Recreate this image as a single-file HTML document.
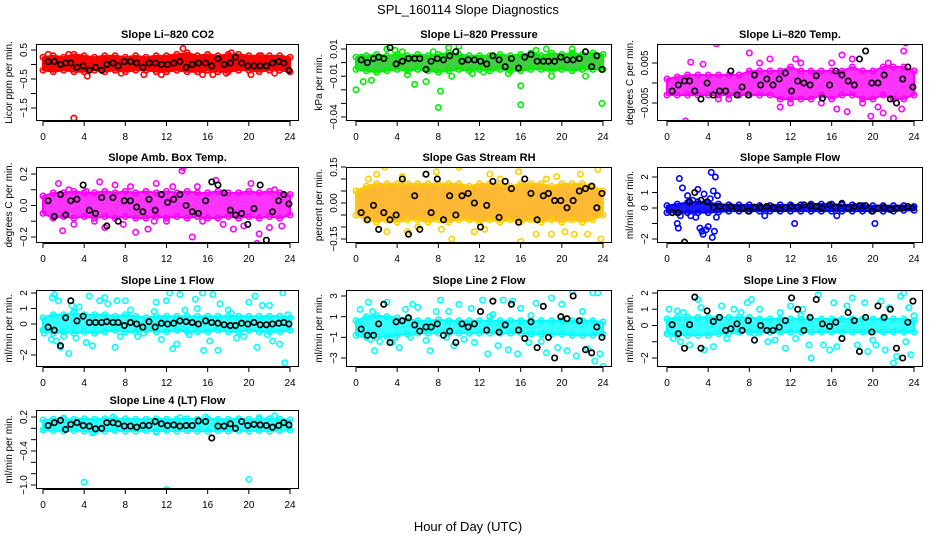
<!DOCTYPE html>
<html><head><meta charset="utf-8"><title>SPL_160114 Slope Diagnostics</title>
<style>
html,body{margin:0;padding:0;background:#fff;}
svg{display:block;font-family:"Liberation Sans",sans-serif;}
</style></head>
<body>
<svg id="chart" width="936" height="540" viewBox="0 0 936 540">
<text x="468" y="14" text-anchor="middle" font-size="13">SPL_160114  Slope Diagnostics</text>
<text x="468" y="531" text-anchor="middle" font-size="13">Hour of Day (UTC)</text>
</svg>
<script>
// ---------- shared data ----------
const xTicks = [0,4,8,12,16,20,24];
const bandHours = [0,1,2,3,4,5,6,7,8,9,10,11,12,13,14,15,16,17,18,19,20,21,22,23,24];
const blackHours = [0.5,1.1,1.7,2.2,2.7,3.3,3.9,4.5,5.1,5.7,6.2,6.8,7.3,7.9,8.5,9.1,9.7,10.3,10.9,11.5,12.1,12.7,13.3,13.9,14.5,15.1,15.8,16.4,17,17.6,18.2,18.7,19.3,19.9,20.5,21.1,21.7,22.3,22.9,23.4,23.9];

// Panel 1: Li-820 CO2
const p1lo = [-0.2,-0.25,-0.2,-0.25,-0.25,-0.2,-0.25,-0.2,-0.25,-0.2,-0.2,-0.25,-0.25,-0.2,-0.25,-0.25,-0.2,-0.25,-0.25,-0.2,-0.2,-0.25,-0.2,-0.2,-0.25];
const p1hi = [0.25,0.3,0.25,0.35,0.3,0.25,0.3,0.3,0.25,0.3,0.25,0.3,0.3,0.35,0.4,0.3,0.35,0.3,0.35,0.35,0.3,0.3,0.3,0.3,0.25];
const p1ex = [[3,-1.85],[4.3,-0.4],[13.6,0.55],[15.5,-0.35],[16.5,-0.35],[20.2,-0.35],[22.5,-0.3],[9.8,-0.35],[11.5,-0.35],[0.5,0.35],[18.3,0.4],[2.5,0.35],[17.8,-0.3],[21.2,0.3],[7.6,-0.3]];
const p1blk = [0.1,0.1,0,0.05,0.05,-0.1,-0.05,-0.2,-0.1,-0.2,0,0.05,-0.05,0.1,0.1,0.05,-0.1,0.05,0.05,0,0,0.05,0.1,-0.1,0,0.05,0.05,-0.05,0.2,0,0.05,0.25,0.05,-0.05,-0.05,-0.05,-0.05,0.05,0.1,0.05,-0.2];
const p1yt = [0.5,0,-0.5,-1,-1.5];
const p1yl = ["0.5","","\u22120.5","","\u22121.5"];

// Panel 2: Li-820 Pressure
const p2lo = [-0.005,-0.006,-0.007,-0.006,-0.005,-0.006,-0.005,-0.006,-0.007,-0.006,-0.005,-0.006,-0.005,-0.006,-0.005,-0.006,-0.006,-0.005,-0.005,-0.006,-0.005,-0.006,-0.005,-0.005,-0.005];
const p2hi = [0.004,0.005,0.006,0.005,0.006,0.005,0.006,0.005,0.006,0.007,0.006,0.005,0.005,0.005,0.006,0.005,0.006,0.007,0.005,0.007,0.006,0.007,0.006,0.007,0.006];
const p2ex = [[0,-0.02],[0.7,-0.014],[1.5,-0.013],[4,-0.045],[5.7,-0.016],[6.8,-0.014],[8,-0.033],[8.2,-0.021],[12,-0.046],[16,-0.031],[16,-0.017],[20,-0.046],[23.9,-0.03],[9,0.011],[10,0.012],[22.3,-0.01],[17.5,0.009],[7.5,0.008],[3,0.01],[12.4,-0.007],[14.8,-0.008],[19,-0.01],[21,0.01],[4.5,0.008],[9.3,-0.01],[3.8,0.009],[0.5,0.004],[5,-0.009],[18.5,0.01],[11.3,-0.008]];
const p2blk = [0.002,0,0.003,0.004,0.003,0.011,-0.001,0.001,0.003,0.003,0.003,-0.005,0.001,0.003,0.002,0.005,0.008,0.001,0.002,0.002,0.001,-0.001,0.005,0.002,-0.003,0.003,-0.004,0.004,0.006,0.001,0.001,0.001,0.001,0.004,0.002,0.002,0.003,0.008,-0.003,0.005,-0.005];
const p2yt = [0.01,0,-0.01,-0.02,-0.03,-0.04];
const p2yl = ["0.01","","\u22120.01","","","\u22120.04"];

// Panel 3: Li-820 Temp
const p3lo = [-0.003,-0.003,-0.003,-0.003,-0.003,-0.003,-0.003,-0.003,-0.003,-0.003,-0.003,-0.004,-0.004,-0.004,-0.004,-0.003,-0.004,-0.003,-0.003,-0.004,-0.004,-0.003,-0.004,-0.004,-0.003];
const p3hi = [0.001,0.0015,0.002,0.002,0.002,0.002,0.002,0.002,0.003,0.003,0.003,0.003,0.004,0.003,0.003,0.003,0.003,0.003,0.004,0.003,0.003,0.004,0.004,0.004,0.003];
const p3ex = [[1.8,-0.0095],[4.8,0.0098],[2.3,0.0052],[3.5,0.0047],[14,-0.011],[16.5,-0.0065],[17.5,-0.0072],[19.8,-0.0083],[21,-0.0075],[22,-0.0088],[23.2,0.01],[23,0.008],[8,0.0075],[11,-0.006],[12.5,0.006],[17,0.007],[24,0.003],[21.5,0.005],[5,-0.004],[10,0.006],[15,-0.005],[13,0.005],[6,-0.004],[18,0.006],[20.5,-0.006],[22.8,-0.0065],[9,0.005],[12,-0.005],[16,0.005],[19,-0.005]];
const p3blk = [-0.002,-0.0005,0.0005,0.0005,-0.002,-0.004,0,-0.003,-0.002,-0.002,0.003,-0.003,-0.001,-0.003,0.002,-0.0005,0.001,-0.0005,0.001,0.0025,-0.002,0.0005,0,-0.0005,0.0018,-0.0038,-0.0005,0.003,0.002,0.0005,-0.0005,0.006,0.008,0,0,0.002,-0.004,-0.005,0.001,0.004,-0.001];
const p3yt = [0.005,0,-0.005];
const p3yl = ["0.005","","\u22120.005"];

// Panel 4: Amb. Box Temp
const p4lo = [-0.05,-0.08,-0.07,-0.08,-0.07,-0.08,-0.07,-0.08,-0.07,-0.08,-0.08,-0.07,-0.08,-0.07,-0.08,-0.07,-0.08,-0.08,-0.07,-0.08,-0.07,-0.08,-0.07,-0.08,-0.06];
const p4hi = [0.06,0.08,0.08,0.09,0.08,0.08,0.09,0.08,0.09,0.08,0.09,0.08,0.09,0.08,0.09,0.08,0.08,0.09,0.08,0.08,0.09,0.08,0.09,0.08,0.07];
const p4ex = [[1.5,0.14],[1.9,-0.16],[3,-0.12],[4.2,0.09],[5.5,0.15],[6,-0.14],[7,0.13],[7.8,-0.12],[9,-0.17],[10.2,-0.15],[11,0.14],[12.6,0.12],[13.5,0.22],[13.6,0.24],[14.5,-0.2],[15.5,-0.1],[16.8,0.16],[17.5,-0.12],[18.5,-0.15],[19.5,-0.13],[20.2,0.14],[20.8,-0.24],[21,-0.18],[22,-0.14],[23.2,-0.13],[2.5,0.1],[8.5,0.12],[10.8,-0.1],[15,0.12],[22.5,0.1],[5,-0.1],[12,-0.1]];
const p4blk = [0.03,-0.07,0.07,-0.06,0.03,0.04,0.13,-0.03,-0.05,0.05,-0.13,0.05,-0.1,0.03,0.03,-0.01,-0.04,0.04,-0.03,0.07,0.02,0.04,0.07,0,-0.04,-0.05,0.03,0.15,0.13,0.08,-0.03,-0.06,-0.05,-0.12,-0.02,0.13,-0.22,-0.04,0.03,0.07,0.01];
const p4yt = [0.2,0.1,0,-0.1,-0.2];
const p4yl = ["0.2","","0.0","","\u22120.2"];

// Panel 5: Gas Stream RH
const p5lo = [-0.05,-0.07,-0.08,-0.07,-0.08,-0.07,-0.07,-0.08,-0.07,-0.08,-0.07,-0.07,-0.08,-0.07,-0.08,-0.07,-0.08,-0.07,-0.08,-0.07,-0.08,-0.07,-0.08,-0.07,-0.05];
const p5hi = [0.05,0.07,0.08,0.08,0.08,0.08,0.08,0.08,0.08,0.08,0.08,0.07,0.08,0.08,0.08,0.07,0.08,0.08,0.08,0.07,0.08,0.08,0.08,0.07,0.05];
const p5ex = [[0,-0.2],[1.2,0.1],[2,0.12],[2.8,0.15],[4,0.16],[4.5,0.11],[5,-0.12],[6.8,0.12],[7.8,0.13],[8.3,-0.11],[9.3,-0.15],[10,0.15],[11.5,-0.12],[13,0.12],[15.8,0.13],[16,-0.16],[17.5,-0.13],[19,-0.13],[19.5,0.11],[20.3,-0.12],[21.2,-0.13],[21.8,0.12],[22.5,-0.13],[23.5,0.14],[23.8,-0.15],[3,-0.12],[6,-0.1],[12.5,-0.11],[14,0.1],[18.5,0.1]];
const p5blk = [-0.04,-0.07,-0.01,-0.11,-0.04,-0.07,-0.05,0.1,-0.13,0.03,-0.11,0.12,-0.04,0.1,-0.07,0.03,-0.05,0.03,0.04,0.0,-0.1,-0.01,0.09,-0.06,0.09,0.06,-0.08,0.1,0.04,-0.07,0.03,0.04,0.01,0.01,-0.02,0.01,0.05,0.06,0.07,-0.02,0.04];
const p5yt = [0.15,0.1,0.05,0,-0.05,-0.1,-0.15];
const p5yl = ["0.15","","","0.00","","","\u22120.15"];

// Panel 6: Sample Flow
const p6lo = [-0.3,-0.3,-0.3,-0.3,-0.3,-0.25,-0.2,-0.2,-0.2,-0.2,-0.2,-0.2,-0.2,-0.2,-0.2,-0.2,-0.2,-0.2,-0.2,-0.2,-0.2,-0.2,-0.2,-0.15,-0.15];
const p6hi = [0.15,0.25,0.35,0.4,0.35,0.25,0.2,0.2,0.2,0.15,0.15,0.2,0.2,0.2,0.25,0.25,0.25,0.2,0.2,0.15,0.15,0.15,0.15,0.15,0.1];
const p6ex = [[1,-1],[1.2,1.9],[1.5,1.3],[2,0.8],[2.3,-0.5],[2.5,0.5],[3,1.2],[3.2,-1.3],[3.5,-1.7],[3.6,0.9],[3.8,-1.4],[4,-1.2],[4.3,2.3],[4.5,1.1],[4.6,-1.5],[4.7,2.0],[4.8,-0.6],[4.4,-1.9],[4.2,0.6],[1.1,-1.3],[1.3,-0.5],[9.5,-0.5],[12.4,-1],[16.5,-0.5],[20.2,-1],[2.8,-0.6],[4.9,0.8],[3.4,-1.5]];
const p6blk = [-0.3,-0.3,-2.2,0.4,1,0.5,0.4,0.05,0.1,0.05,0.1,0,0,-0.2,0.05,0.05,0.1,0.05,-0.05,0,0.1,0.05,0.2,0.15,0.1,0,0.2,0.05,0.3,0,0.1,0.15,0.15,-0.2,0,0.05,-0.1,0,0,0.1,0];
const p6yt = [2,1,0,-1,-2];
const p6yl = ["2","1","0","","\u22122"];

// Panel 7: Line 1 Flow
const p7lo = [-0.4,-0.6,-0.5,-0.6,-0.5,-0.6,-0.5,-0.4,-0.5,-0.5,-0.4,-0.5,-0.5,-0.4,-0.5,-0.5,-0.5,-0.4,-0.5,-0.5,-0.4,-0.5,-0.5,-0.5,-0.4];
const p7hi = [0.4,0.6,0.6,0.7,0.6,0.6,0.6,0.5,0.6,0.5,0.4,0.5,0.5,0.5,0.5,0.5,0.5,0.5,0.5,0.5,0.5,0.5,0.5,0.5,0.4];
const p7ex = [[0.1,-0.6],[0.8,-1],[0.9,1.7],[1.1,1.9],[1.3,-1.1],[1.5,1.5],[1.7,-1.5],[2,-0.8],[2.5,-1.9],[2.8,1.2],[3.2,-0.9],[3.5,1.1],[4.2,-1.2],[4.5,1.8],[4.8,-1.4],[5.5,1.5],[6,1.7],[6.3,1.3],[7,-1.5],[7.2,1.5],[7.5,-0.8],[8,1.5],[8.5,0.9],[9.2,-0.8],[10.8,0.8],[11,1.4],[11.5,-1],[12,1.5],[12.3,2],[12.6,-1.6],[13,-1.3],[13.3,1.9],[13.8,0.9],[14.8,1.6],[15,1],[15.5,2],[15.6,-1.7],[16.2,-1.1],[16.5,1.9],[17,-1.7],[17.2,1.3],[18,0.9],[18.8,-0.9],[19.5,-0.8],[20,1.4],[20.6,1.8],[20.8,-1.5],[21.3,1.2],[21.8,-0.7],[22,1.2],[22.3,-1.1],[23,-1.3],[23.3,2],[23.5,-2.5],[23.8,0.6],[9.8,-0.6],[14.2,-0.7],[3,0.8],[18.3,0.7]];
const p7blk = [-0.2,-0.4,-1.4,0.4,1.5,0.2,0.5,0.1,0.1,0.1,0.15,0.1,0.1,-0.1,0.1,0,-0.2,0.15,-0.2,0.05,0,0.05,0.2,0.15,0.1,0,0.2,0.1,0.05,-0.05,-0.1,-0.1,0.05,0,0.1,-0.05,-0.05,0,0.05,0.1,0];
const p7yt = [2,1,0,-1,-2];
const p7yl = ["2","1","0","","\u22122"];

// Panel 8: Line 2 Flow
const p8lo = [-0.8,-1,-1,-0.9,-0.8,-0.7,-0.6,-0.6,-0.6,-0.6,-0.6,-0.6,-0.6,-0.6,-0.6,-0.6,-0.6,-0.7,-0.7,-0.7,-0.7,-0.8,-0.8,-0.8,-0.7];
const p8hi = [0.6,1,1.1,1,0.9,0.8,0.6,0.6,0.7,0.6,0.6,0.6,0.6,0.6,0.6,0.6,0.6,0.6,0.6,0.6,0.6,0.6,0.6,0.6,0.5];
const p8ex = [[0.4,1.7],[0.9,-0.8],[1.2,2.4],[1.4,-1.2],[1.6,1.5],[1.8,-2.3],[2.3,-1.4],[3,2.4],[3.5,-1.5],[4.2,-2],[4.8,1.7],[5.3,-1],[5.5,2.2],[6,1.9],[6.8,-1.3],[7.2,-2.3],[7.8,1.5],[8.2,2.6],[9,1.5],[9.5,-1.8],[10,2.2],[10.5,-1.2],[11.2,1.8],[11.5,-1.5],[12.3,2.6],[12.8,-2.6],[13.3,1.2],[13.8,-1.8],[14.3,2.6],[14.8,-2.2],[15.2,2.5],[15.7,-2.6],[16,1.8],[16.8,-1.5],[17.5,2.3],[18,-1.4],[18.5,-2.5],[19,2.8],[19.6,-2],[20,2.2],[20.5,-2.3],[21,3.5],[21.4,-2.8],[22,1.5],[22.5,-2.1],[23,3.3],[23.2,-3.3],[23.5,3.3],[23.7,-2.6],[24,-3.8],[3.8,-1],[8.8,-1],[13,1],[17,1.1]];
const p8blk = [-0.2,-0.8,-0.8,0.3,2.2,-1.5,0.5,0.6,0.9,0.2,-0.4,0,0,0.3,-0.8,-0.4,-1.5,0.3,0,0.3,1.5,-0.3,2.5,-0.5,0.2,2.2,-0.3,-1.1,0.5,-2,2,-1,-3,1,0.8,3,0.6,-2.2,-2.5,0,-1];
const p8yt = [3,1,-1,-3];
const p8yl = ["3","1","\u22121","\u22123"];

// Panel 9: Line 3 Flow
const p9lo = [-0.5,-0.6,-0.6,-0.6,-0.6,-0.5,-0.5,-0.4,-0.4,-0.4,-0.4,-0.4,-0.4,-0.4,-0.4,-0.4,-0.4,-0.4,-0.4,-0.4,-0.4,-0.4,-0.4,-0.4,-0.4];
const p9hi = [0.4,0.5,0.5,0.5,0.5,0.5,0.5,0.5,0.5,0.4,0.4,0.4,0.4,0.4,0.4,0.4,0.4,0.4,0.4,0.4,0.4,0.4,0.4,0.4,0.3];
const p9ex = [[0.2,1],[0.6,-0.8],[1.3,-1],[1.6,0.8],[2.2,-1.2],[3,1.6],[3.3,1.1],[3.6,-1.5],[4.5,-1.3],[5.3,1.2],[5.8,-0.8],[6.5,1],[7.2,0.8],[7.8,1.4],[8.2,1.6],[9,1],[9.8,-1],[10.5,-0.9],[11,0.8],[11.5,-1.4],[12,1.2],[12.5,-0.8],[13.2,1],[13.8,-1.2],[14,-2],[14.7,1.9],[15.2,-1.2],[15.8,-1.5],[16.2,1.4],[16.5,-1.3],[17.5,1.2],[18,1.7],[18.5,-1.2],[19.2,1.4],[19.5,-1.6],[20,-0.9],[20.3,-1.2],[20.8,1.5],[21.2,-1.5],[21.6,1.1],[22,-2.3],[22.3,-1.9],[22.7,1.8],[23,2],[23.2,-1],[23.5,1.1],[23.7,-1.8],[24,0.6],[1,0.9],[4,-0.6],[8.5,-0.5],[13,0.6],[17,-0.8]];
const p9blk = [0.05,-0.5,-1.4,0.05,1.75,-1.4,0.9,0.25,0.5,-0.3,-0.2,0.1,-0.3,0.3,-0.9,0,-0.3,-0.3,-0.1,0.3,1.7,1,-0.3,0.5,1.6,0.1,-0.05,0.2,-0.8,0.8,0.3,-1.6,0.5,-0.4,1.2,0.5,1,-1.4,-2,0.2,1.5];
const p9yt = [2,1,0,-1,-2];
const p9yl = ["2","1","0","","\u22122"];

// Panel 10: Line 4 (LT) Flow
const p10lo = [-0.03,-0.04,-0.05,-0.04,-0.05,-0.06,-0.05,-0.04,-0.05,-0.05,-0.04,-0.05,-0.04,-0.05,-0.04,-0.05,-0.05,-0.04,-0.05,-0.04,-0.05,-0.04,-0.05,-0.04,-0.03];
const p10hi = [0.15,0.16,0.15,0.16,0.17,0.16,0.17,0.16,0.17,0.16,0.16,0.17,0.16,0.16,0.17,0.16,0.17,0.16,0.16,0.17,0.16,0.16,0.17,0.16,0.15];
const p10ex = [[4,-0.95],[12,-1.08],[20,-0.9],[4.8,-0.08],[6.8,0.2],[11,-0.07],[13.3,0.19],[22.5,0.22],[15.8,0.2],[21,0.19],[2,0.18]];
const p10blk = [0.05,0.1,0.14,-0.02,0.07,0.1,0.05,0.04,-0.01,0,0.1,0.1,0.08,0.04,0.04,0.02,0.05,0.05,0.12,0.08,0.05,0.06,0.04,0.05,0.05,0.13,0.12,-0.17,0.04,0.04,0.08,0,0.12,0.05,0.07,0.06,0.05,0.02,0.05,0.1,0.06];
const p10yt = [0.2,0,-0.2,-0.4,-0.6,-0.8,-1.0];
const p10yl = ["0.2","","","\u22120.4","","","\u22121.0"];

// ---------- layout (not data) ----------
const NS = "http://www.w3.org/2000/svg";
const svg = document.getElementById('chart');
function mk(tag, attrs, parent){ const e=document.createElementNS(NS,tag); for(const k in attrs) e.setAttribute(k,attrs[k]); (parent||svg).appendChild(e); return e; }

const cols = [{L:36,R:299,x0:43,x24:290},{L:346,R:612,x0:356,x24:603},{L:657,R:923,x0:667,x24:914}];
const rows = [{T:44,B:121},{T:167,B:243},{T:290,B:367},{T:410,B:489}];

const panels = [
 {name:"co2",title:"Slope Li\u2013820 CO2",ylab:"Licor ppm per min.",c:0,r:0,lo:p1lo,hi:p1hi,ex:p1ex,blk:p1blk,yt:p1yt,yl:p1yl,ref:[0.5,50,-1.5,108],col:"#ff0000",fill:"#ff0000"},
 {name:"pressure",title:"Slope Li\u2013820 Pressure",ylab:"kPa per min.",c:1,r:0,lo:p2lo,hi:p2hi,ex:p2ex,blk:p2blk,yt:p2yt,yl:p2yl,ref:[0.01,49,-0.04,117],col:"#00ee00",fill:"#3fcf3f"},
 {name:"li820-temp",title:"Slope Li\u2013820 Temp.",ylab:"degrees C per min.",c:2,r:0,lo:p3lo,hi:p3hi,ex:p3ex,blk:p3blk,yt:p3yt,yl:p3yl,ref:[0.005,63,-0.005,103],col:"#ff00ff",fill:"#ff33ff"},
 {name:"amb-box-temp",title:"Slope Amb. Box Temp.",ylab:"degrees C per min.",c:0,r:1,lo:p4lo,hi:p4hi,ex:p4ex,blk:p4blk,yt:p4yt,yl:p4yl,ref:[0.2,174,-0.2,237],col:"#ff00ff",fill:"#ff33ff"},
 {name:"gas-stream-rh",title:"Slope Gas Stream RH",ylab:"percent per min.",c:1,r:1,lo:p5lo,hi:p5hi,ex:p5ex,blk:p5blk,yt:p5yt,yl:p5yl,ref:[0.15,167,-0.15,239],col:"#ffcc00",fill:"#ffb833"},
 {name:"sample-flow",title:"Slope Sample Flow",ylab:"ml/min per min.",c:2,r:1,lo:p6lo,hi:p6hi,ex:p6ex,blk:p6blk,yt:p6yt,yl:p6yl,ref:[2,177,-2,239],col:"#0000ff",fill:"#1a1aff"},
 {name:"line1-flow",title:"Slope Line 1 Flow",ylab:"ml/min per min.",c:0,r:2,lo:p7lo,hi:p7hi,ex:p7ex,blk:p7blk,yt:p7yt,yl:p7yl,ref:[2,293,-2,355],col:"#00ffff",fill:"#33ffff"},
 {name:"line2-flow",title:"Slope Line 2 Flow",ylab:"ml/min per min.",c:1,r:2,lo:p8lo,hi:p8hi,ex:p8ex,blk:p8blk,yt:p8yt,yl:p8yl,ref:[3,296,-3,358],col:"#00ffff",fill:"#33ffff"},
 {name:"line3-flow",title:"Slope Line 3 Flow",ylab:"ml/min per min.",c:2,r:2,lo:p9lo,hi:p9hi,ex:p9ex,blk:p9blk,yt:p9yt,yl:p9yl,ref:[2,293,-2,358],col:"#00ffff",fill:"#33ffff"},
 {name:"line4-flow",title:"Slope Line 4 (LT) Flow",ylab:"ml/min per min.",c:0,r:3,lo:p10lo,hi:p10hi,ex:p10ex,blk:p10blk,yt:p10yt,yl:p10yl,ref:[0.2,417,-1.0,485],col:"#00ffff",fill:"#33ffff"}
];

panels.forEach(p=>{
  const C=cols[p.c], R=rows[p.r];
  const xs = h => C.x0 + (C.x24-C.x0)*h/24;
  const ys = v => p.ref[1] + (p.ref[3]-p.ref[1])*(v-p.ref[0])/(p.ref[2]-p.ref[0]);
  const g = mk('g',{});
  
  
  const clipId='clip-'+p.name;
  const cp=mk('clipPath',{id:clipId},g); mk('rect',{x:C.L,y:R.T,width:C.R-C.L,height:R.B-R.T},cp);
  const plot=mk('g',{'clip-path':'url(#'+clipId+')'},g);
  let pts=[];
  bandHours.forEach((h,i)=>pts.push(xs(h)+','+ys(p.hi[i])));
  for(let i=bandHours.length-1;i>=0;i--) pts.push(xs(bandHours[i])+','+ys(p.lo[i]));
  const band=mk('polygon',{points:pts.join(' '),fill:p.fill,stroke:p.col,'stroke-width':2,'stroke-linejoin':'round'},plot);
  
  
  bandHours.forEach((h,i)=>{
    [p.lo[i],p.hi[i]].forEach(v=>{
      const c=mk('circle',{cx:xs(h),cy:ys(v),r:2.7,fill:'none',stroke:p.col,'stroke-width':1.6},plot);
      
      
    });
  });
  p.ex.forEach(e=>{
    const c=mk('circle',{cx:xs(e[0]),cy:ys(e[1]),r:2.7,fill:'none',stroke:p.col,'stroke-width':1.6},plot);
    
    
  });
  blackHours.forEach((h,i)=>{
    const c=mk('circle',{cx:xs(h),cy:ys(p.blk[i]),r:2.7,fill:'none',stroke:'#000','stroke-width':1.7},plot);
    
    
  });
  const box=mk('rect',{x:C.L+0.5,y:R.T+0.5,width:C.R-C.L-1,height:R.B-R.T-1,fill:'none',stroke:'#000','stroke-width':1},g);
  
  
  mk('line',{x1:xs(0),x2:xs(24),y1:R.B+0.5,y2:R.B+0.5,stroke:'#000'},g);
  xTicks.forEach(t=>{
    mk('line',{x1:xs(t),x2:xs(t),y1:R.B,y2:R.B+5,stroke:'#000'},g);
    const tx=mk('text',{x:xs(t),y:R.B+19,'text-anchor':'middle','font-size':10},g);
    tx.textContent=t;
    
    
  });
  p.yt.forEach((t,i)=>{
    const y=ys(t);
    mk('line',{x1:C.L-5,x2:C.L,y1:y,y2:y,stroke:'#000'},g);
    if(p.yl[i]){
      const tx=mk('text',{x:0,y:0,'text-anchor':'middle','font-size':10,transform:'translate('+(C.L-9)+','+y+') rotate(-90)'},g);
      tx.textContent=p.yl[i];
      
      
    }
  });
  const yl=mk('text',{x:0,y:0,'text-anchor':'middle','font-size':10,transform:'translate('+(C.L-24)+','+((R.T+R.B)/2)+') rotate(-90)'},g);
  yl.textContent=p.ylab;
  
  
  const tt=mk('text',{x:(C.L+C.R)/2,y:R.T-6,'text-anchor':'middle','font-size':11,'font-weight':'bold'},g);
  tt.textContent=p.title;
  
  
});
</script>
</body></html>
